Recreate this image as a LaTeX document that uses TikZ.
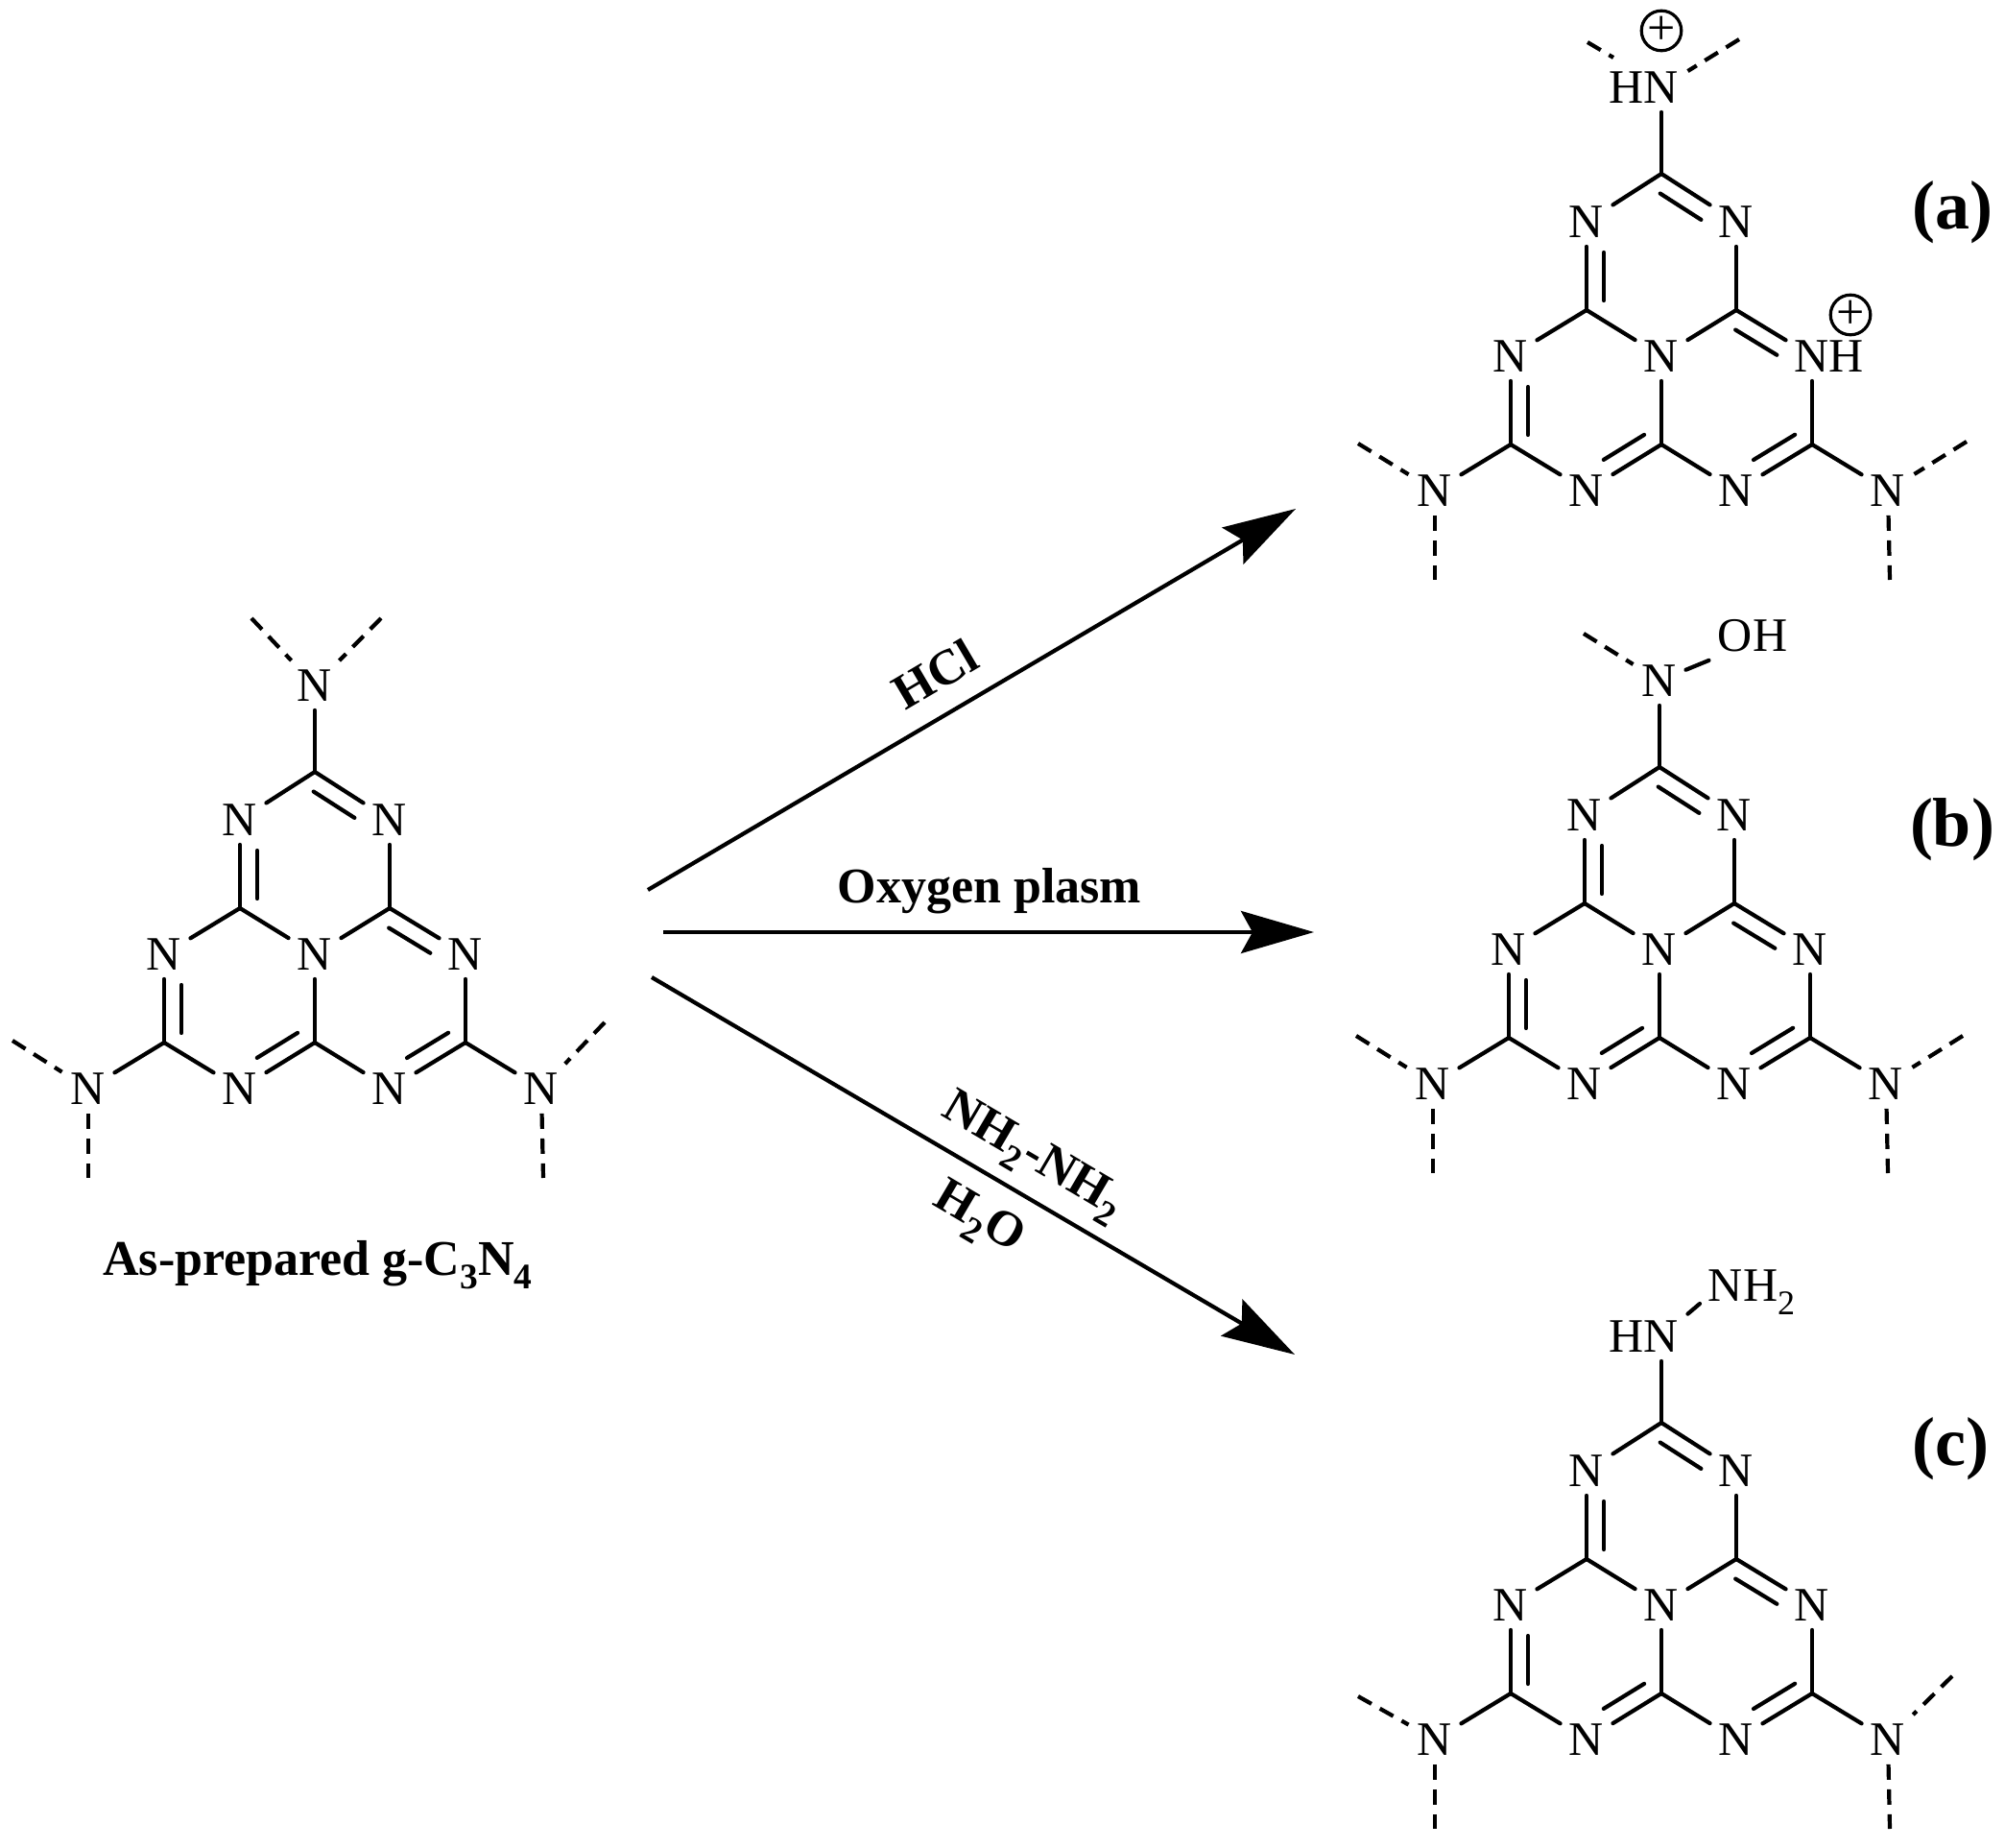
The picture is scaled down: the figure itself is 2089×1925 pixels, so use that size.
\documentclass[tikz,border=0pt]{standalone}
\usepackage{fontspec}
\setmainfont{Liberation Serif}
\usetikzlibrary{calc,arrows.meta}

\tikzset{
  atom/.style={font=\fontsize{25}{30}\selectfont, inner sep=4.5pt, text height=16.5pt, text depth=0pt},
  title/.style={font=\fontsize{26}{31}\selectfont\bfseries, inner sep=0pt},
  tag/.style={font=\fontsize{36}{43}\selectfont\bfseries, inner sep=0pt},
  bond/.style={line width=2.1pt, line cap=round},
  dashbond/.style={line width=2.1pt, dash pattern=on 8pt off 5pt},
  react/.style={line width=2.1pt, -{Stealth[length=38pt,width=22pt,inset=6pt]}},
  charge/.style={circle, draw, line width=1.6pt, minimum size=18pt, inner sep=0pt, font=\fontsize{26}{26}\selectfont}
}

\newcommand{\subs}[1]{\raisebox{-0.27em}{\scalebox{0.72}{#1}}}

% #1 name, #2 left free end, #3 right free end
\newcommand{\heptazine}[3]{
  % carbons
  \foreach \c/\p in {c1/{0,-190}, c2/{-78,-48}, c3/{78,-48}, c4/{-157,92}, c5/{0,92}, c6/{157,92}}
    \coordinate (#1-\c) at (\p);
  % nitrogens
  \foreach \n/\p in {ntl/{-78,-140}, ntr/{78,-140}, nl/{-157,0}, nc/{0,0}, nr/{157,0}, nbl/{-78,140}, nbr/{78,140}, top/{0,-280}, sl/{-236,140}, sr/{236,140}}
    \node[atom] (#1-\n) at (\p) {N};
  % single bonds
  \foreach \a/\b in {c1/ntl, c1/top, c2/nl, c2/nc, c3/nc, c3/ntr, c5/nc, c4/nbl, c5/nbr, c6/nr, c4/sl, c6/sr}
    \draw[bond] (#1-\a) -- (#1-\b);
  % double bonds
  \foreach \a/\b in {c1/ntr, c2/ntl, c3/nr, c4/nl, c5/nbl, c6/nbr} {
    \draw[bond] (#1-\a) -- (#1-\b);
    \draw[bond, shorten <=5pt, shorten >=16pt] ($(#1-\a)!9pt!-90:(#1-\b.center)$) -- ($(#1-\b.center)!9pt!90:(#1-\a)$);
  }
  % free ends
  \coordinate (#1-el) at (#2);
  \coordinate (#1-er) at (#3);
  \coordinate (#1-bl) at (-236,233);
  \coordinate (#1-br) at (238,233);
  \draw[dashbond] (#1-el) -- (#1-sl);
  \draw[dashbond] (#1-er) -- (#1-sr);
  \draw[dashbond] (#1-sl) -- (#1-bl);
  \draw[dashbond] (#1-sr) -- (#1-br);
}

\begin{document}
\begin{tikzpicture}[x=0.5pt, y=-0.5pt]
  \useasboundingbox (0,0) rectangle (2089,1925);

  % start
  \begin{scope}[shift={(328,994)}]
    \heptazine{s}{-315,90}{302,71}
    \coordinate (s-tl) at (-66,-350);
    \coordinate (s-tr) at (69,-350);
    \draw[dashbond] (s-tl) -- (s-top);
    \draw[dashbond] (s-tr) -- (s-top);
  \end{scope}
  \node[title] (name) at (331,1318) {As-prepared g-C\subs{3}N\subs{4}};

  % (a)
  \begin{scope}[shift={(1731,371)}]
    \heptazine{a}{-316,91}{318,89}
    \node[atom] (a-toph) at (-36,-280) {H};
    \node[atom] (a-rh) at (193,0) {H};
    \coordinate (a-tl) at (-77,-327);
    \coordinate (a-tm) at (-50,-311);
    \coordinate (a-tr) at (81,-330);
    \draw[dashbond] (a-tl) -- (a-tm);
    \draw[dashbond] (a-tr) -- (a-top);
    \node[charge] (a-plus1) at (0,-339) {+};
    \node[charge] (a-plus2) at (197,-43) {+};
  \end{scope}
  \node[tag] (tag-a) at (2034,221) {(a)};

  % (b)
  \begin{scope}[shift={(1729,989)}]
    \heptazine{b}{-316,90}{316,90}
    \node[atom] (b-oh) at (97,-327) {OH};
    \coordinate (b-tl) at (-79,-329);
    \draw[dashbond] (b-tl) -- (b-top);
    \draw[bond] (b-top) -- (b-oh.south west);
  \end{scope}
  \node[tag] (tag-b) at (2034,864) {(b)};

  % (c)
  \begin{scope}[shift={(1731,1672)}]
    \heptazine{c}{-316,95}{303,74}
    \node[atom] (c-toph) at (-36,-280) {H};
    \node[atom] (c-nh) at (94,-333) {NH\subs{2}};
    \coordinate (c-ne) at (40,-314);
    \draw[bond] (c-top) -- (c-ne);
  \end{scope}
  \node[tag] (tag-c) at (2032,1509) {(c)};

  % arrows
  \coordinate (from-a) at (675,927);
  \coordinate (to-a) at (1350,530);
  \coordinate (from-b) at (691,971);
  \coordinate (to-b) at (1369,971);
  \coordinate (from-c) at (679,1018);
  \coordinate (to-c) at (1349,1411);
  \draw[react] (from-a) -- (to-a);
  \draw[react] (from-b) -- (to-b);
  \draw[react] (from-c) -- (to-c);

  % reagents
  \node[title, rotate=30.5] (hcl) at (974,702) {HCl};
  \node[title] (plasm) at (1031,928) {Oxygen plasm};
  \node[title, rotate=-30.5] (hydrazine) at (1075,1206) {NH\subs{2}-NH\subs{2}};
  \node[title, rotate=-30.5] (water) at (1019,1271) {H\subs{2}O};
\end{tikzpicture}
\end{document}
